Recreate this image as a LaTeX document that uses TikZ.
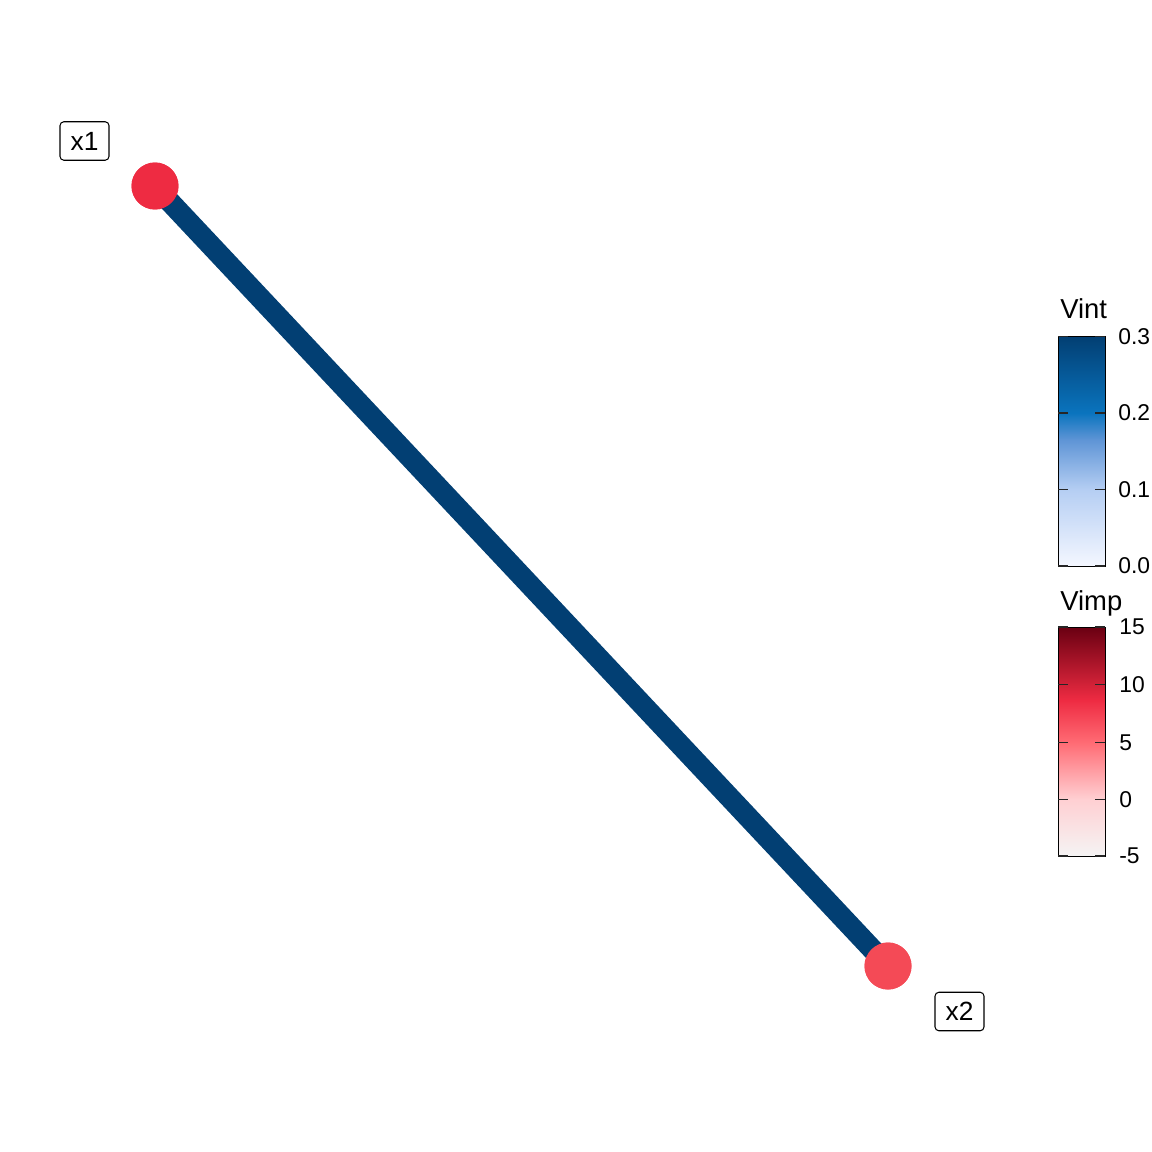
\documentclass[tikz,border=0pt]{standalone}
\usepackage{fontspec}
\setmainfont{Liberation Sans}
\definecolor{edgeblue}{HTML}{023F73}
\definecolor{nodeA}{HTML}{EE2B42}
\definecolor{nodeB}{HTML}{F44A56}
\definecolor{vA}{HTML}{F4F7FF}
\definecolor{vB}{HTML}{B5CEF3}
\definecolor{vC}{HTML}{5F95D6}
\definecolor{vD}{HTML}{0A74BE}
\definecolor{vE}{HTML}{023F73}
\definecolor{rA}{HTML}{F5F4F4}
\definecolor{rB}{HTML}{FFCFD2}
\definecolor{rC}{HTML}{FF6B74}
\definecolor{rD}{HTML}{EE2B42}
\definecolor{rE}{HTML}{6A0012}
\begin{document}
\begin{tikzpicture}[x=0.02cm,y=-0.02cm,
  vertex/.style={circle,inner sep=0pt,minimum size=0.94cm},
  lab/.style={draw=black,line width=0.6pt,rounded corners=2.2pt,fill=white,inner sep=0pt,minimum width=0.98cm,minimum height=0.77cm,font=\fontsize{15pt}{17pt}\selectfont},
  legtitle/.style={anchor=base west,inner sep=0pt,font=\fontsize{15.6pt}{18pt}\selectfont},
  ticklab/.style={anchor=west,inner sep=0pt,font=\fontsize{13pt}{15pt}\selectfont},
  tickmark/.style={line width=0.6pt,draw=black!85}]
\useasboundingbox (0,0) rectangle (1152,1152);
% nodes
\node[vertex,fill=nodeA] (x1) at (155,186) {};
\node[vertex,fill=nodeB] (x2) at (888,966) {};
\draw[edgeblue,line width=0.42cm] (x1.center) -- (x2.center);
\node[vertex,fill=nodeA] at (x1) {};
\node[vertex,fill=nodeB] at (x2) {};
\node[lab] (l1) at (84.5,141) {x1};
\node[lab] (l2) at (959.5,1011.5) {x2};
% Vint legend
\node[legtitle] (t1) at (1060,318.5) {Vint};
\shade[bottom color=vA,top color=vB] (1058,566) rectangle (1105,489.5);
\shade[bottom color=vB,top color=vC] (1058,489.6) rectangle (1105,440);
\shade[bottom color=vC,top color=vD] (1058,440.1) rectangle (1105,413);
\shade[bottom color=vD,top color=vE] (1058,413.1) rectangle (1105,336.5);
\draw[line width=0.5pt] (1058,336.5) rectangle (1105,566);
\foreach \yy/\tt in {336.5/0.3,413/0.2,489.5/0.1,566/0.0}{
  \draw[tickmark] (1058,\yy) -- (1068,\yy);
  \draw[tickmark] (1095,\yy) -- (1105,\yy);
  \node[ticklab] at (1118,\yy) {\tt};
}
% Vimp legend
\node[legtitle] (t2) at (1060,610) {Vimp};
\shade[bottom color=rA,top color=rB] (1058,856) rectangle (1105,799);
\shade[bottom color=rB,top color=rC] (1058,799.1) rectangle (1105,742.5);
\shade[bottom color=rC,top color=rD] (1058,742.6) rectangle (1105,700);
\shade[bottom color=rD,top color=rE] (1058,700.1) rectangle (1105,627);
\draw[line width=0.5pt] (1058,627) rectangle (1105,856);
\foreach \yy/\tt in {627/15,684.3/10,742.5/5,799.3/0,856/-5}{
  \draw[tickmark] (1058,\yy) -- (1068,\yy);
  \draw[tickmark] (1095,\yy) -- (1105,\yy);
  \node[ticklab] at (1119,\yy) {\tt};
}
\end{tikzpicture}
\end{document}
